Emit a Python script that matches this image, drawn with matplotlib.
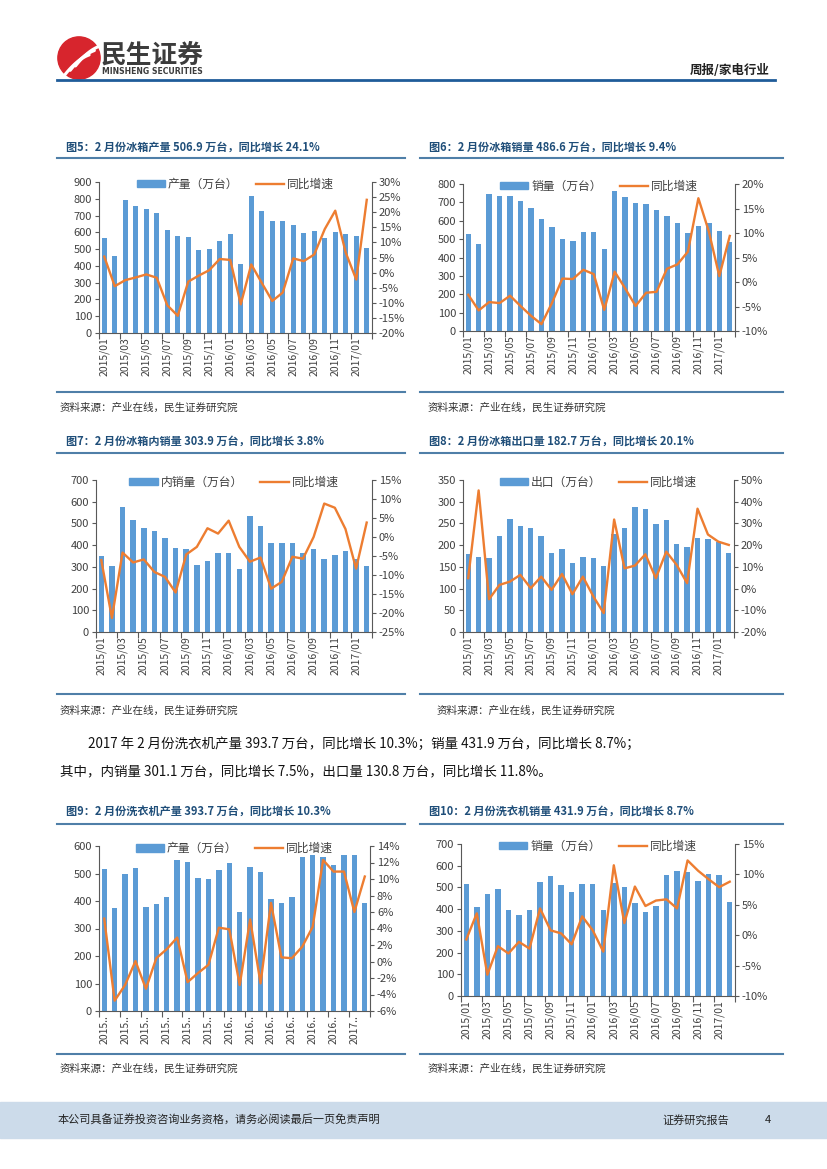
import numpy as np
import matplotlib
matplotlib.use("Agg")
import matplotlib.pyplot as plt
from matplotlib.patches import Rectangle, Circle
from matplotlib.lines import Line2D
from matplotlib.ticker import FuncFormatter

plt.rcParams['font.family'] = ['Noto Sans CJK SC', 'DejaVu Sans']

months = ['2015/01', '2015/02', '2015/03', '2015/04', '2015/05', '2015/06', '2015/07',
          '2015/08', '2015/09', '2015/10', '2015/11', '2015/12', '2016/01', '2016/02',
          '2016/03', '2016/04', '2016/05', '2016/06', '2016/07', '2016/08', '2016/09',
          '2016/10', '2016/11', '2016/12', '2017/01', '2017/02']

# 冰箱产量 / 同比
fridge_prod = [569, 459, 794, 758, 740, 714, 613, 577, 573, 493, 499, 551, 593,
               411, 818, 728, 669, 665, 641, 597, 609, 565, 601, 589, 577, 506.9]
fridge_prod_yoy = [5.3, -4.5, -2.5, -1.6, -0.6, -1.7, -10.8, -14.3, -3.0, -1.0, 0.8, 4.5, 4.2,
                   -10.5, 2.7, -3.4, -9.4, -6.6, 4.7, 3.8, 6.0, 14.4, 20.5, 6.6, -2.3, 24.1]

# 冰箱销量 / 同比
fridge_sales = [529, 475, 745, 735, 736, 709, 671, 609, 565, 500, 489, 538, 540,
                445, 762, 727, 698, 693, 658, 625, 587, 533, 571, 587, 544, 486.6]
fridge_sales_yoy = [-2.6, -5.8, -4.1, -4.3, -2.8, -4.9, -6.9, -8.6, -4.3, 0.7, 0.6, 2.5, 1.6,
                    -5.7, 2.1, -1.3, -4.9, -2.2, -2.0, 2.7, 3.6, 6.2, 17.1, 10.3, 1.2, 9.4]

# 冰箱内销量 / 同比
fridge_dom = [352, 302, 574, 515, 478, 466, 432, 389, 383, 309, 329, 365, 366,
              292, 535, 488, 412, 412, 409, 366, 383, 337, 354, 371, 335, 303.9]
fridge_dom_yoy = [-6.1, -21.3, -4.1, -6.7, -5.9, -9.2, -10.5, -14.6, -4.6, -2.6, 2.3, 0.9, 4.3,
                  -2.6, -6.5, -5.4, -13.6, -11.8, -5.2, -5.7, 0.0, 8.8, 7.7, 2.1, -8.3, 3.8]

# 冰箱出口 / 同比
fridge_exp = [179, 173, 171, 220, 260, 243, 239, 221, 183, 192, 159, 173, 171,
              152, 225, 240, 287, 283, 248, 258, 203, 196, 217, 215, 208, 182.7]
fridge_exp_yoy = [4.8, 45.2, -4.9, 1.7, 3.2, 6.3, 0.2, 5.5, -0.6, 6.7, -2.6, 5.5, -3.6,
                  -11.3, 31.8, 9.3, 10.6, 15.8, 4.8, 17.0, 10.9, 2.5, 36.8, 24.9, 21.6, 20.1]

# 洗衣机产量 / 同比
washer_prod = [518, 373, 500, 520, 380, 389, 413, 550, 543, 483, 480, 512, 537,
               359, 524, 506, 408, 391, 414, 559, 566, 560, 532, 566, 568, 393.7]
washer_prod_yoy = [5.2, -4.75, -2.85, 0.05, -3.3, 0.4, 1.5, 2.9, -2.5, -1.4, -0.4, 4.1, 3.9,
                   -2.85, 5.1, -2.65, 7.1, 0.5, 0.4, 1.8, 4.2, 12.3, 10.9, 10.9, 6.0, 10.3]

# 洗衣机销量 / 同比
washer_sales = [515, 409, 469, 495, 394, 371, 394, 525, 551, 509, 480, 515, 515,
                398, 522, 503, 428, 389, 414, 557, 574, 571, 531, 563, 555, 431.9]
washer_sales_yoy = [-0.7, 3.6, -6.5, -1.8, -3.0, -1.1, -2.2, 4.4, 0.8, 0.3, -1.5, 3.1, 0.8,
                    -2.7, 11.5, 2.0, 8.0, 4.8, 5.7, 5.9, 4.4, 12.3, 10.6, 9.2, 7.9, 8.8]

W, H = 827, 1169
BAR_C = '#5B9BD5'
LINE_C = '#ED7D31'
AX_C = '#595959'
TITLE_C = '#1F4E79'
RULE_C = '#4F7FA8'
TICK_FS = 8


def box(l, t, r, b):
    return [l / W, 1 - b / H, (r - l) / W, (b - t) / H]


def draw_chart(fig, rect, bars, growth, bar_label, ylim, ystep, rlim, rstep, short=False):
    ax = fig.add_axes(box(*rect))
    x = np.arange(len(months))
    ax.bar(x, bars, width=0.52, color=BAR_C, zorder=2)
    ax.set_xlim(-0.5, len(months) - 0.5)
    ax.set_ylim(*ylim)
    ax.set_yticks(np.arange(ylim[0], ylim[1] + 0.1, ystep))

    labels = [m[:4] + '..' if short else m for m in months]
    ax.set_xticks(x[::2])
    ax.set_xticklabels(labels[::2], rotation=90, fontsize=7.5, color='#404040')
    ax.set_xticks(np.arange(-0.5, len(months), 2), minor=True)
    ax.tick_params(axis='x', which='major', length=0, pad=3)
    ax.tick_params(axis='x', which='minor', length=4, color=AX_C, width=0.8)
    ax.tick_params(axis='y', length=3, color=AX_C, width=0.8, labelsize=TICK_FS,
                   labelcolor='#404040', pad=2)
    for s in ['top', 'right']:
        ax.spines[s].set_visible(False)
    for s in ['left', 'bottom']:
        ax.spines[s].set_color(AX_C)
        ax.spines[s].set_linewidth(0.8)

    ax2 = ax.twinx()
    ax2.plot(x, growth, color=LINE_C, lw=1.7, zorder=3)
    ax2.set_ylim(*rlim)
    ax2.set_yticks(np.arange(rlim[0], rlim[1] + 0.01, rstep))
    ax2.yaxis.set_major_formatter(FuncFormatter(lambda v, p: f"{v:.0f}%"))
    ax2.tick_params(axis='y', length=3, color=AX_C, width=0.8, labelsize=TICK_FS,
                    labelcolor='#404040', pad=2)
    for s in ['top', 'left', 'bottom']:
        ax2.spines[s].set_visible(False)
    ax2.spines['right'].set_color(AX_C)
    ax2.spines['right'].set_linewidth(0.8)

    handles = [Rectangle((0, 0), 1, 1, color=BAR_C), Line2D([], [], color=LINE_C, lw=1.7)]
    ax2.legend(handles, [bar_label, '同比增速'], loc='center', bbox_to_anchor=(0.5, 0.985),
               ncol=2, frameon=False, fontsize=8.5, handlelength=2.4, handleheight=0.6,
               columnspacing=1.5, handletextpad=0.25, labelcolor='#404040',
               borderpad=0.1)
    return ax


def chart_frame(fig, x0, x1, title, y_title, y_rule, y_bottom, y_src, x_src):
    fig.text(x0 + 9 / W, 1 - y_title / H, title, fontsize=8, fontweight='bold',
             color=TITLE_C, va='center', ha='left')
    fig.add_artist(Line2D([x0, x1], [1 - y_rule / H] * 2, color=RULE_C, lw=1.5))
    fig.add_artist(Line2D([x0, x1], [1 - y_bottom / H] * 2, color=RULE_C, lw=1.5))
    fig.text(x_src / W, 1 - y_src / H, '资料来源：产业在线，民生证券研究院', fontsize=7.6,
             color='#333333', va='center', ha='left')


def main():
    fig = plt.figure(figsize=(W / 100, H / 100), dpi=100)

    # header
    logo = fig.add_axes(box(57, 36, 101, 80))
    logo.set_xlim(0, 1)
    logo.set_ylim(0, 1)
    logo.set_aspect('equal')
    logo.axis('off')
    logo.add_patch(Circle((0.5, 0.5), 0.48, color='#D7252D'))
    t = np.linspace(0, 1, 30)
    for k in range(3):
        xs = 0.18 + 0.12 * k + 0.55 * t
        ys = 0.12 + 0.1 * k + 0.7 * t - 0.25 * t ** 2
        logo.plot(xs, ys, color='white', lw=2.2, solid_capstyle='round')
    fig.text(101 / W, 1 - 55 / H, '民生证券', fontsize=18.5, fontweight='bold', color='#3C3C3C',
             va='center', ha='left')
    fig.text(102 / W, 1 - 72 / H, 'MINSHENG SECURITIES', fontsize=5.6, fontweight='bold',
             color='#3C3C3C', va='center', ha='left', family='DejaVu Sans')
    fig.text(770 / W, 1 - 70 / H, '周报/家电行业', fontsize=9, fontweight='bold', color='#222222',
             va='center', ha='right')
    fig.add_artist(Line2D([57 / W, 775 / W], [1 - 80 / H] * 2, color='#1F5C99', lw=2))

    L0, L1 = 57 / W, 405 / W
    R0, R1 = 420 / W, 783 / W

    chart_frame(fig, L0, L1, '图5：2 月份冰箱产量 506.9 万台，同比增长 24.1%', 147, 158, 392, 408, 60)
    chart_frame(fig, R0, R1, '图6：2 月份冰箱销量 486.6 万台，同比增长 9.4%', 147, 158, 392, 408, 428)
    chart_frame(fig, L0, L1, '图7：2 月份冰箱内销量 303.9 万台，同比增长 3.8%', 441, 453, 694, 711, 60)
    chart_frame(fig, R0, R1, '图8：2 月份冰箱出口量 182.7 万台，同比增长 20.1%', 441, 453, 694, 711, 437)
    chart_frame(fig, L0, L1, '图9：2 月份洗衣机产量 393.7 万台，同比增长 10.3%', 812, 824, 1054, 1069, 60)
    chart_frame(fig, R0, R1, '图10：2 月份洗衣机销量 431.9 万台，同比增长 8.7%', 812, 824, 1054, 1069, 428)

    draw_chart(fig, (99, 182, 372, 333), fridge_prod, fridge_prod_yoy, '产量（万台）',
               (0, 900), 100, (-20, 30), 5)
    draw_chart(fig, (463, 184, 735, 331), fridge_sales, fridge_sales_yoy, '销量（万台）',
               (0, 800), 100, (-10, 20), 5)
    draw_chart(fig, (96, 480, 372, 632), fridge_dom, fridge_dom_yoy, '内销量（万台）',
               (0, 700), 100, (-25, 15), 5)
    draw_chart(fig, (463, 480, 734, 632), fridge_exp, fridge_exp_yoy, '出口（万台）',
               (0, 350), 50, (-20, 50), 10)
    draw_chart(fig, (99, 846, 370, 1011), washer_prod, washer_prod_yoy, '产量（万台）',
               (0, 600), 100, (-6, 14), 2, short=True)
    draw_chart(fig, (461, 844, 735, 996), washer_sales, washer_sales_yoy, '销量（万台）',
               (0, 700), 100, (-10, 15), 5)

    # paragraph
    fig.text(88 / W, 1 - 744 / H,
             '2017 年 2 月份洗衣机产量 393.7 万台，同比增长 10.3%；销量 431.9 万台，同比增长 8.7%；',
             fontsize=9.7, color='#111111', va='center', ha='left')
    fig.text(60 / W, 1 - 771 / H,
             '其中，内销量 301.1 万台，同比增长 7.5%，出口量 130.8 万台，同比增长 11.8%。',
             fontsize=9.7, color='#111111', va='center', ha='left')

    # footer
    fig.add_artist(Rectangle((0, 1 - 1138 / H), 1, 36 / H, color='#CCDBEA', zorder=0))
    fig.text(58 / W, 1 - 1120 / H, '本公司具备证券投资咨询业务资格，请务必阅读最后一页免责声明',
             fontsize=8, color='#222222', va='center', ha='left')
    fig.text(662 / W, 1 - 1120 / H, '证券研究报告', fontsize=8, color='#222222', va='center', ha='left')
    fig.text(765 / W, 1 - 1120 / H, '4', fontsize=8, color='#222222', va='center', ha='left')

    fig.savefig('out.png', dpi=100)


if __name__ == "__main__":
    main()
